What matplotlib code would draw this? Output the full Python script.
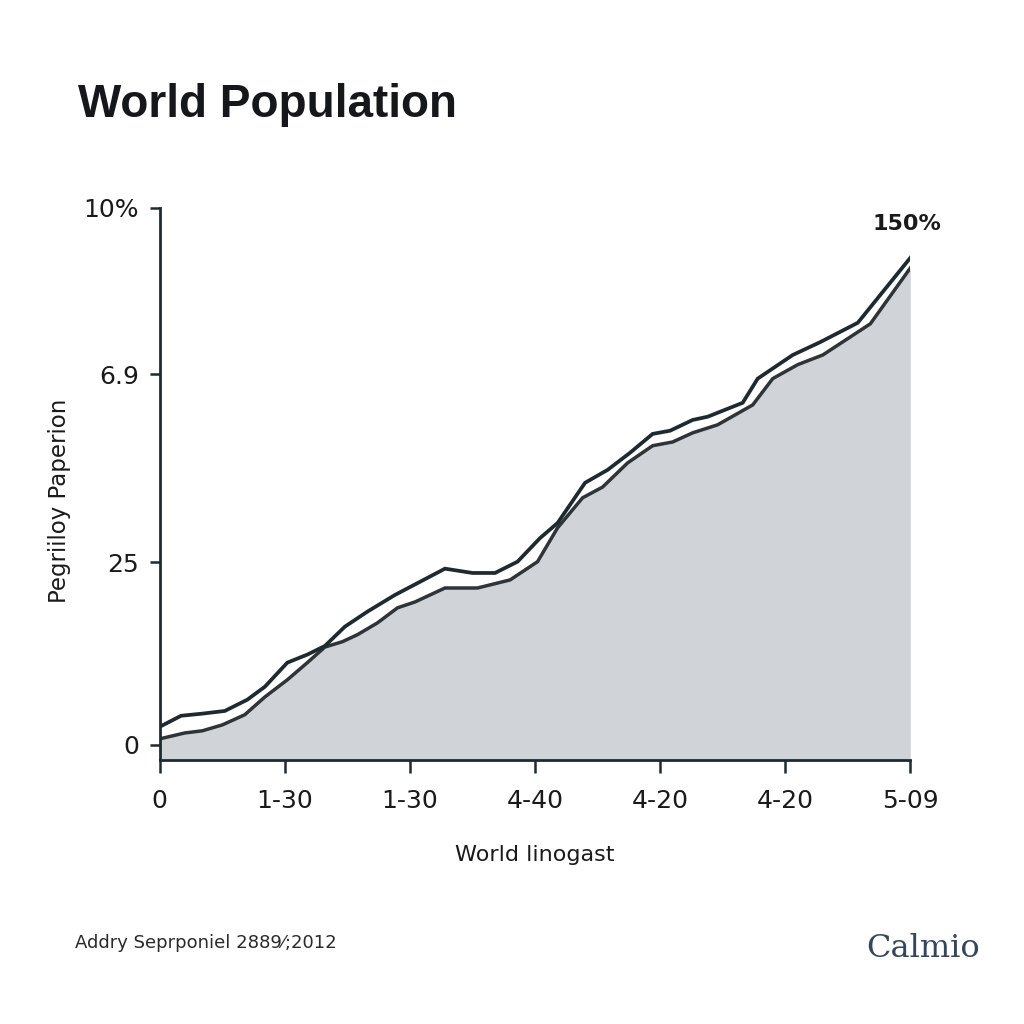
import matplotlib.pyplot as plt

# upper (outline) series
upper_x = [0.0, 0.17, 0.34, 0.52, 0.70, 0.84, 1.02, 1.18, 1.32, 1.48, 1.66, 1.88,
           2.28, 2.50, 2.68, 2.86, 3.04, 3.18, 3.40, 3.58, 3.76, 3.94, 4.08, 4.26,
           4.38, 4.66, 4.78, 5.06, 5.28, 5.58, 6.0]
upper_y = [3.35, 5.4, 5.8, 6.3, 8.4, 10.8, 15.3, 16.8, 18.4, 22.0, 24.8, 27.9,
           32.8, 32.0, 32.0, 34.1, 38.5, 41.3, 48.8, 51.2, 54.4, 57.9, 58.5, 60.5,
           61.1, 63.7, 68.2, 72.6, 75.0, 78.6, 90.7]

# lower (filled) series
lower_x = [0.0, 0.2, 0.34, 0.5, 0.68, 0.84, 1.02, 1.18, 1.32, 1.46, 1.58, 1.74,
           1.9, 2.04, 2.28, 2.54, 2.8, 3.02, 3.18, 3.38, 3.54, 3.74, 3.94, 4.1,
           4.26, 4.46, 4.74, 4.9, 5.1, 5.3, 5.68, 6.0]
lower_y = [1.1, 2.2, 2.6, 3.7, 5.6, 8.9, 12.1, 15.3, 18.2, 19.2, 20.5, 22.7,
           25.5, 26.6, 29.2, 29.2, 30.7, 34.1, 40.4, 46.0, 48.0, 52.5, 55.7, 56.4,
           58.1, 59.6, 63.3, 68.2, 70.8, 72.6, 78.4, 88.8]

xtick_pos = [0, 1, 2, 3, 4, 5, 6]
xtick_labels = ['0', '1-30', '1-30', '4-40', '4-20', '4-20', '5-09']
ytick_pos = [0, 34, 69, 100]
ytick_labels = ['0', '25', '6.9', '10%']

dark = '#1f2a30'

fig = plt.figure(figsize=(10.24, 10.24), dpi=100)
fig.patch.set_facecolor('white')
ax = fig.add_axes([0.156, 0.258, 0.733, 0.539])

ax.fill_between(lower_x, lower_y, -5, color='#d0d4d8', lw=0)
ax.plot(lower_x, lower_y, color='#2e3438', lw=2.5, solid_joinstyle='miter')
ax.plot(upper_x, upper_y, color=dark, lw=2.7, solid_joinstyle='miter')

ax.set_xlim(0, 6)
ax.set_ylim(-2.8, 100)

for s in ['top', 'right']:
    ax.spines[s].set_visible(False)
for s in ['left', 'bottom']:
    ax.spines[s].set_color(dark)
    ax.spines[s].set_linewidth(2)

ax.set_xticks(xtick_pos, xtick_labels)
ax.set_yticks(ytick_pos, ytick_labels)
ax.tick_params(axis='x', length=9, width=1.8, color=dark, pad=12,
               labelsize=18, labelcolor='#1a1a1a')
ax.tick_params(axis='y', length=7, width=1.8, color=dark, pad=8,
               labelsize=18, labelcolor='#1a1a1a')

ax.set_xlabel('World linogast', fontsize=16, labelpad=23, color='#1a1a1a')
ax.set_ylabel('Pegriiloy Paperion', fontsize=16.5, labelpad=0, color='#1a1a1a')
ax.yaxis.set_label_coords(-0.118, 0.47)

ax.text(6.25, 97, '150%', fontsize=16, fontweight='bold', ha='right',
        va='center', color='#1a1a1a', clip_on=False)

fig.text(0.076, 0.897, 'World Population', fontsize=33, fontweight='bold',
         family='Liberation Sans', color='#15171a', va='center')
fig.text(0.073, 0.079, 'Addry Seprponiel 2889\u2044;2012', fontsize=13,
         color='#2a2a2a', va='center')
fig.text(0.957, 0.074, 'Calmio', fontsize=23, family='DejaVu Serif',
         color='#34475a', ha='right', va='center')

fig.savefig('out.png', dpi=100, facecolor='white')
